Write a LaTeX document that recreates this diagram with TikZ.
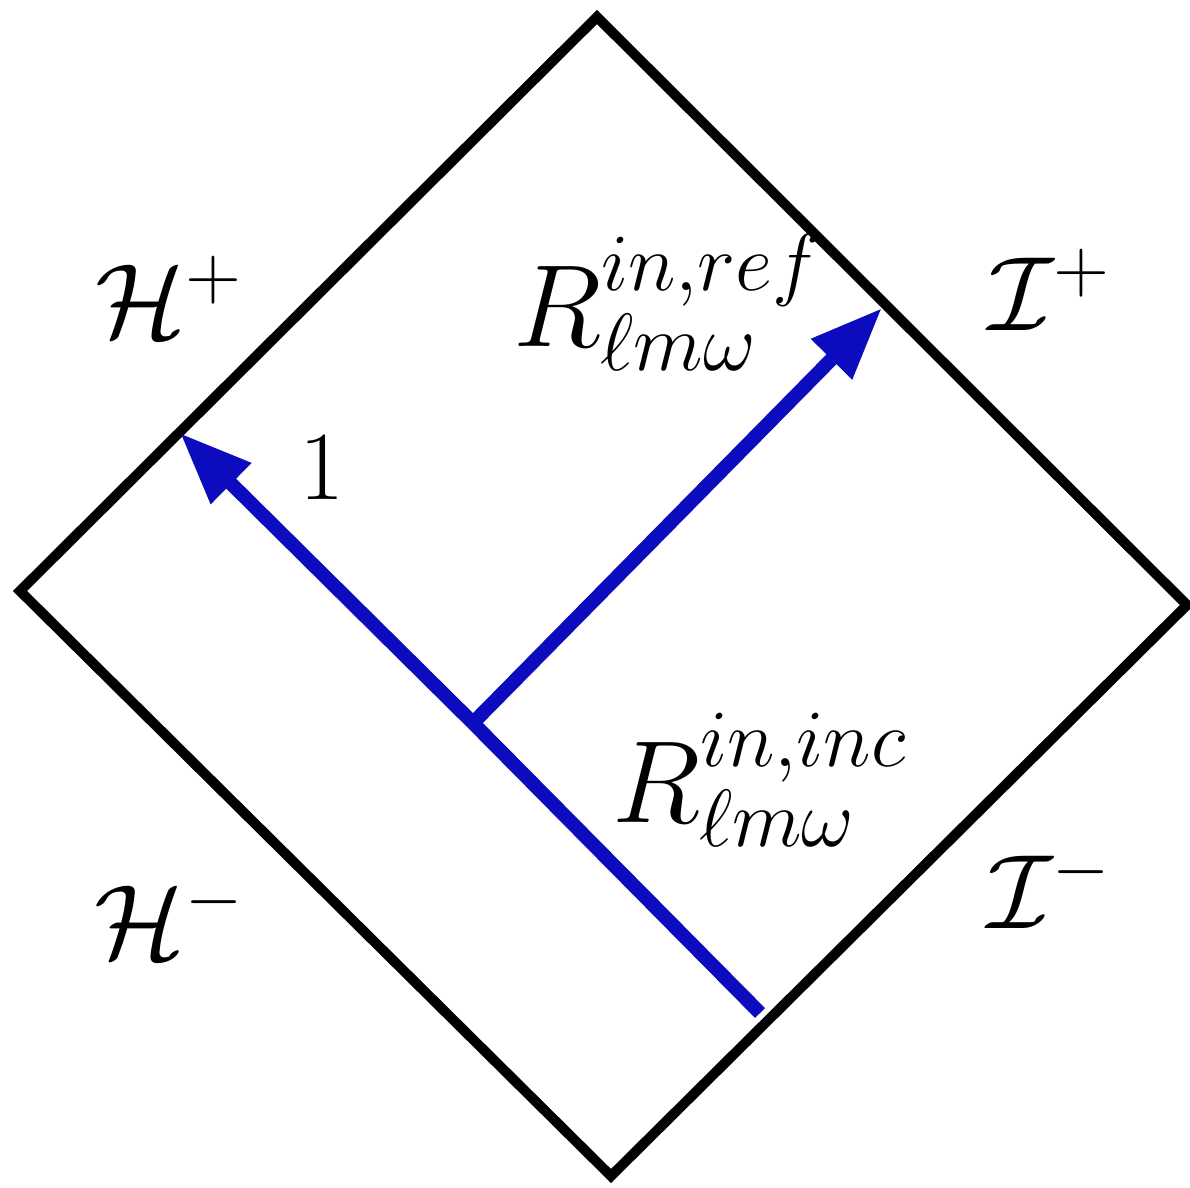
\documentclass[tikz,border=0pt]{standalone}
\usetikzlibrary{arrows.meta}
\definecolor{wave}{RGB}{12,12,190}
\begin{document}
\begin{tikzpicture}[x=0.5pt,y=-0.5pt,
  frame/.style={line width=5pt, line join=miter},
  ray/.style={wave, line width=7pt, -{Triangle[length=36pt,width=27pt]}},
  lab/.style={inner sep=0pt, scale=2.55, font=\fontsize{22}{26}\selectfont},
  onelab/.style={inner sep=0pt, scale=2.36, font=\fontsize{22}{26}\selectfont},
  rlab/.style={inner sep=0pt, scale=2.35, font=\fontsize{26}{30}\selectfont}]
\useasboundingbox (0,0) rectangle (1190,1188);
\coordinate (T) at (597,17);
\coordinate (R) at (1187,605);
\coordinate (B) at (611,1176);
\coordinate (L) at (20,591);
\draw[frame] (T) -- (R) -- (B) -- (L) -- cycle;
\coordinate (start) at (760,1013);
\coordinate (junc) at (473,723);
\coordinate (hplus) at (180,433);
\coordinate (iplus) at (882,308);
\draw[wave, line width=7pt] (start) -- (junc);
\draw[ray] (junc) -- (hplus);
\draw[ray] (junc) -- (iplus);
\node[lab] (Hp) at (170,297) {$\mathcal{H}^+$};
\node[lab] (Ip) at (1050,290) {$\mathcal{I}^+$};
\node[lab] (Hm) at (170,918) {$\mathcal{H}^-$};
\node[lab] (Im) at (1050,888) {$\mathcal{I}^-$};
\node[onelab] (one) at (322,468) {$1$};
\node[rlab] (Rref) at (668,302) {$R^{in,ref}_{\ell m\omega}$};
\node[rlab] (Rinc) at (760,780) {$R^{in,inc}_{\ell m\omega}$};
\end{tikzpicture}
\end{document}
